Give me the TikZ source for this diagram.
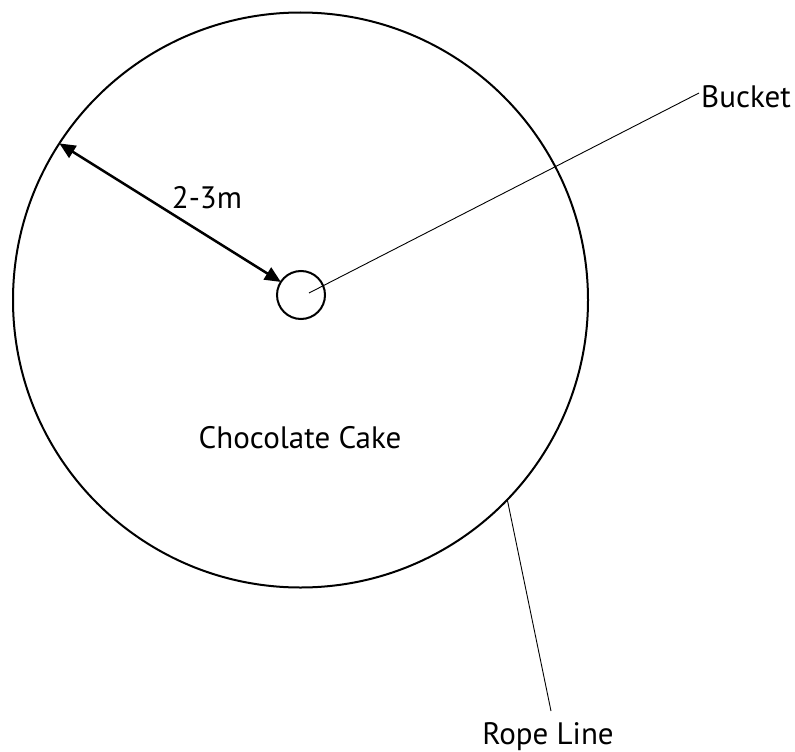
\documentclass[tikz,border=0pt]{standalone}
\usepackage{fontspec}
\setmainfont{PT Sans}
\usetikzlibrary{arrows.meta}

\tikzset{
    label/.style={font=\fontsize{31}{37}\selectfont, inner sep=2pt},
    pointer/.style={line width=0.9pt},
}

\begin{document}
\begin{tikzpicture}[x=1pt,y=-1pt]
\useasboundingbox (0,0) rectangle (795,752);

\begin{scope}[shift={(0,0)}]
        \coordinate (O) at (300.5,300);
        \coordinate (P) at (301,295);
        \coordinate (Q) at (309,293);

        \node[draw, circle, line width=2pt, minimum size=575pt, inner sep=0pt, outer sep=0pt] (cake) at (O) {};
        \node[draw, circle, line width=2pt, minimum size=48pt, inner sep=0pt, outer sep=0pt] (bucket) at (P) {};

        % Napisy
        \node[label] (cakelbl) at (300,438) {Chocolate Cake};
        \node[label, anchor=west] (bucketlbl) at (699,97) {Bucket};
        \node[label, anchor=north] (ropelbl) at (548,720) {Rope Line};
        \node[label] (dist) at (207,198) {2-3m};

        \draw[line width=2.5pt, {Triangle[length=16pt,width=14pt]}-{Triangle[length=16pt,width=14pt]}] (cake.147) -- (bucket.147);
        \draw[pointer] (Q) -- ([yshift=4pt]bucketlbl.west);
        \draw[pointer] (cake.-44) -- ([xshift=3pt,yshift=9pt]ropelbl.north);
\end{scope}

\end{tikzpicture}
\end{document}
